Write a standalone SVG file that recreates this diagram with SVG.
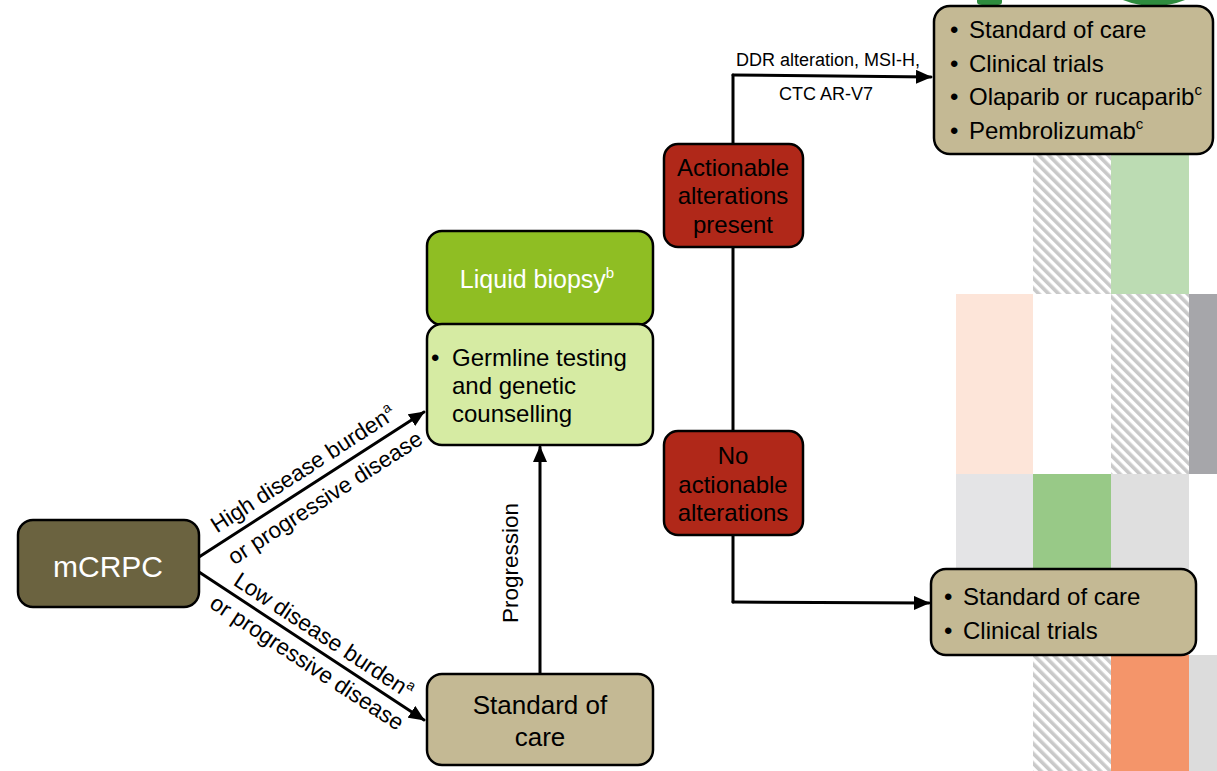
<svg xmlns="http://www.w3.org/2000/svg" width="1217" height="771" viewBox="0 0 1217 771">
<defs>
<pattern id="hatch" width="7" height="7" patternUnits="userSpaceOnUse" patternTransform="rotate(-45)">
<rect width="7" height="7" fill="#ffffff"/>
<rect width="3.6" height="7" fill="#c9c9c9"/>
</pattern>
<marker id="arr" markerUnits="userSpaceOnUse" markerWidth="16" markerHeight="14" refX="15" refY="7" orient="auto">
<path d="M0,0 L16,7 L0,14 Z" fill="#000"/>
</marker>
</defs>
<style>
text{font-family:"Liberation Sans",Arial,sans-serif;}
.box{stroke:#000;stroke-width:2.5;}
.tan{fill:#c4b994;}
.red{fill:#b02819;}
.ln{stroke:#000;stroke-width:3;fill:none;stroke-linecap:round;}
.t24{font-size:24px;fill:#000;}
.lbl{font-size:22.5px;fill:#000;}
.sup{font-size:14px;}
.sm{font-size:18px;fill:#000;}
</style>
<rect width="1217" height="771" fill="#ffffff"/>
<g id="background-tiles">
<path d="M977,0 H1002 V2 Q1002,5 998,5 H982 Q977,5 977,2 Z" fill="#2e8c3e"/>
<path d="M1123,0 H1185 Q1170,6 1154,6 Q1138,6 1123,0 Z" fill="#2e8c3e"/>
<rect x="1033" y="140" width="78" height="154" fill="url(#hatch)"/>
<rect x="1111" y="140" width="78" height="154" fill="#bcdcb3"/>
<rect x="956" y="294" width="77" height="180" fill="#fde5d9"/>
<rect x="1111" y="294" width="78" height="180" fill="url(#hatch)"/>
<rect x="1189" y="294" width="28" height="180" fill="#a6a6aa"/>
<rect x="956" y="474" width="77" height="150" fill="#e4e4e6"/>
<rect x="1033" y="474" width="78" height="150" fill="#98c987"/>
<rect x="1111" y="474" width="78" height="150" fill="#dfdfdf"/>
<rect x="1033" y="655" width="78" height="116" fill="url(#hatch)"/>
<rect x="1111" y="655" width="78" height="116" fill="#f4956a"/>
<rect x="1189" y="655" width="28" height="116" fill="#dcdcdc"/>
</g>
<g id="connectors">
<line class="ln" x1="199" y1="557" x2="424" y2="412" marker-end="url(#arr)"/>
<line class="ln" x1="199" y1="572" x2="424" y2="720" marker-end="url(#arr)"/>
<line class="ln" x1="540" y1="674" x2="540" y2="447" marker-end="url(#arr)"/>
<line class="ln" x1="733" y1="75" x2="733" y2="144"/>
<line class="ln" x1="733" y1="247" x2="733" y2="431"/>
<line class="ln" x1="733" y1="535" x2="733" y2="602"/>
<line class="ln" x1="733" y1="75" x2="931" y2="77" marker-end="url(#arr)"/>
<line class="ln" x1="733" y1="602" x2="929" y2="603" marker-end="url(#arr)"/>
<g transform="translate(199,557) rotate(-32.8)">
<text class="lbl" x="135" y="-10" text-anchor="middle">High disease burden<tspan class="sup" dy="-9">a</tspan></text>
<text class="lbl" x="138" y="26" text-anchor="middle">or progressive disease</text>
</g>
<g transform="translate(199,572) rotate(33.3)">
<text class="lbl" x="139" y="-8" text-anchor="middle">Low disease burden<tspan class="sup" dy="-9">a</tspan></text>
<text class="lbl" x="140" y="24" text-anchor="middle">or progressive disease</text>
</g>
<text class="lbl" transform="translate(518,563) rotate(-90)" text-anchor="middle">Progression</text>
<text class="sm" x="828" y="66" text-anchor="middle">DDR alteration, MSI-H,</text>
<text class="sm" x="826" y="100" text-anchor="middle">CTC AR-V7</text>
</g>
<g id="node-mcrpc">
<rect class="box" x="18" y="520" width="181" height="87" rx="15" fill="#6b6340"/>
<text x="108" y="577" text-anchor="middle" style="font-size:30px;fill:#fff">mCRPC</text>
</g>
<g id="node-liquid-biopsy">
<rect class="box" x="427" y="231" width="226" height="94" rx="15" fill="#8fbe23"/>
<text x="537" y="288" text-anchor="middle" style="font-size:25px;fill:#fff">Liquid biopsy<tspan style="font-size:15px" dy="-10">b</tspan></text>
</g>
<g id="node-germline">
<rect class="box" x="427" y="324" width="226" height="121" rx="15" fill="#d6eba3"/>
<text class="t24" x="431" y="366">•</text>
<text class="t24" x="452" y="366">Germline testing</text>
<text class="t24" x="452" y="394">and genetic</text>
<text class="t24" x="452" y="422">counselling</text>
</g>
<g id="node-standard-of-care">
<rect class="box tan" x="427" y="674" width="226" height="91" rx="15"/>
<text x="540" y="714" text-anchor="middle" style="font-size:26px">Standard of</text>
<text x="540" y="746" text-anchor="middle" style="font-size:26px">care</text>
</g>
<g id="node-actionable">
<rect class="box red" x="664" y="144" width="139" height="103" rx="14"/>
<text class="t24" x="733" y="176" text-anchor="middle">Actionable</text>
<text class="t24" x="733" y="204" text-anchor="middle">alterations</text>
<text class="t24" x="733" y="233" text-anchor="middle">present</text>
</g>
<g id="node-no-actionable">
<rect class="box red" x="664" y="431" width="139" height="104" rx="14"/>
<text class="t24" x="733" y="464" text-anchor="middle">No</text>
<text class="t24" x="733" y="493" text-anchor="middle">actionable</text>
<text class="t24" x="733" y="521" text-anchor="middle">alterations</text>
</g>
<g id="node-treatment-top">
<rect class="box tan" x="934" y="6" width="279" height="148" rx="16"/>
<text class="t24" x="950" y="38">•</text>
<text class="t24" x="969" y="38">Standard of care</text>
<text class="t24" x="950" y="72">•</text>
<text class="t24" x="969" y="72">Clinical trials</text>
<text class="t24" x="950" y="105">•</text>
<text class="t24" x="969" y="105">Olaparib or rucaparib<tspan style="font-size:15px" dy="-10">c</tspan></text>
<text class="t24" x="950" y="139">•</text>
<text class="t24" x="969" y="139">Pembrolizumab<tspan style="font-size:15px" dy="-10">c</tspan></text>
</g>
<g id="node-treatment-bottom">
<rect class="box tan" x="931" y="569" width="265" height="86" rx="15"/>
<text class="t24" x="944" y="605">•</text>
<text class="t24" x="963" y="605">Standard of care</text>
<text class="t24" x="944" y="639">•</text>
<text class="t24" x="963" y="639">Clinical trials</text>
</g>
</svg>
